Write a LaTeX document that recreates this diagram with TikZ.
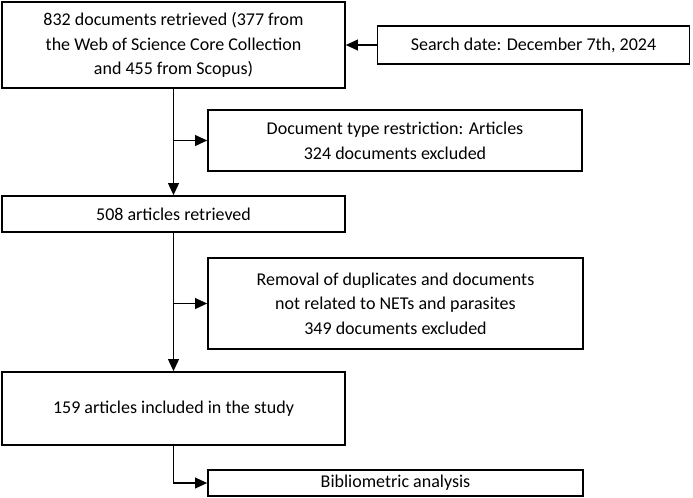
\documentclass[tikz,border=0pt]{standalone}
\usepackage{fontspec}
\setmainfont{Carlito}
\usetikzlibrary{arrows.meta}
\tikzset{every picture/.style={line width=1.2pt},
  flowbox/.style={draw,inner sep=0pt,align=center,font=\fontsize{13.5}{18.5}\selectfont},
  flowarrow/.style={-{Triangle[length=9pt,width=8pt]}}}
\begin{document}
\begin{tikzpicture}[x=0.75pt,y=0.75pt,yscale=-1,xscale=1]
\useasboundingbox (0,0) rectangle (693,497);
%Boxes
\node [flowbox,minimum width=343*0.75pt,minimum height=86*0.75pt] (retrieved) at (173.5,45) {832 documents retrieved (377 from\\the Web of Science Core Collection\\and 455 from Scopus)};
\node [flowbox,minimum width=312*0.75pt,minimum height=38*0.75pt] (search) at (533.5,45) {Search date: December 7th, 2024};
\node [flowbox,minimum width=374*0.75pt,minimum height=61*0.75pt] (doctype) at (395,140.5) {Document type restriction: Articles\\324 documents excluded};
\node [flowbox,minimum width=343*0.75pt,minimum height=36*0.75pt] (articles) at (173.5,214) {508 articles retrieved};
\node [flowbox,minimum width=375*0.75pt,minimum height=91*0.75pt] (removal) at (395.5,303.5) {Removal of duplicates and documents\\not related to NETs and parasites\\349 documents excluded};
\node [flowbox,minimum width=343*0.75pt,minimum height=73*0.75pt] (included) at (173.5,408.5) {159 articles included in the study};
\node [flowbox,minimum width=375*0.75pt,minimum height=26*0.75pt] (biblio) at (395.5,483) {Bibliometric analysis};
%Connectors
\draw [flowarrow] (search) -- (retrieved);
\draw [flowarrow] (retrieved) -- (articles);
\draw [flowarrow] (173.5,140.5) -- (doctype);
\draw [flowarrow] (articles) -- (included);
\draw [flowarrow] (173.5,303.5) -- (removal);
\draw [flowarrow] (included.south) |- (biblio);
\end{tikzpicture}
\end{document}
